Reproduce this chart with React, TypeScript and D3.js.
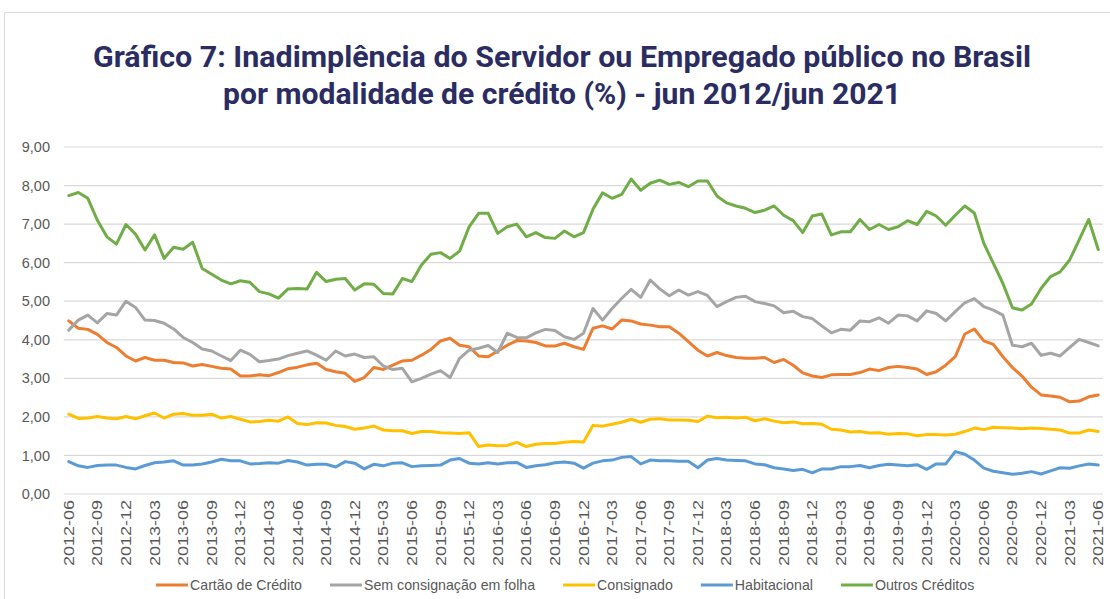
import React, { useMemo } from "react";
import * as d3 from "d3";

// jun 2012 .. jun 2021, one point per month (109)
const months = d3
  .timeMonth.range(new Date(2012, 5, 1), new Date(2021, 6, 1))
  .map(d3.timeFormat("%Y-%m"));

const cartao = [
  4.49, 4.3, 4.27, 4.14, 3.93, 3.8, 3.58, 3.45, 3.54, 3.47, 3.47, 3.41, 3.4, 3.32, 3.36, 3.31, 3.26, 3.24,
  3.06, 3.06, 3.09, 3.07, 3.15, 3.25, 3.29, 3.35, 3.39, 3.23, 3.17, 3.13, 2.92, 3.02,
  3.28, 3.23, 3.34, 3.45, 3.47, 3.6, 3.75, 3.97, 4.04, 3.86, 3.82, 3.58, 3.56, 3.71, 3.86, 3.98, 3.97, 3.93,
  3.84, 3.84, 3.91, 3.82, 3.75, 4.3, 4.36, 4.28, 4.51, 4.49, 4.41, 4.38, 4.34, 4.34, 4.17, 3.95, 3.73, 3.58,
  3.67, 3.59, 3.54, 3.52,
  3.52, 3.54, 3.41, 3.49, 3.34, 3.14, 3.06, 3.02, 3.09, 3.1, 3.1, 3.15, 3.24, 3.2, 3.28, 3.31, 3.28, 3.24,
  3.1, 3.17, 3.34, 3.56, 4.15, 4.28, 3.97, 3.88, 3.56, 3.28, 3.06, 2.77, 2.57, 2.54, 2.51, 2.39, 2.41, 2.52, 2.57,
];

const semConsignacao = [
  4.25, 4.51, 4.64, 4.44, 4.68, 4.64, 5.0, 4.84, 4.51, 4.5, 4.43, 4.28, 4.06, 3.93, 3.76, 3.71, 3.58, 3.46,
  3.73, 3.62, 3.43, 3.46, 3.5, 3.59, 3.65, 3.71, 3.6, 3.47, 3.71, 3.58, 3.63, 3.54,
  3.56, 3.32, 3.23, 3.26, 2.91, 3.0, 3.11, 3.2, 3.02, 3.52, 3.73, 3.78, 3.85, 3.67, 4.17, 4.06, 4.05, 4.18,
  4.27, 4.24, 4.08, 4.01, 4.17, 4.81, 4.51, 4.81, 5.07, 5.31, 5.1, 5.55, 5.32, 5.14, 5.29, 5.16, 5.25, 5.15,
  4.86, 4.99, 5.1, 5.13,
  4.99, 4.94, 4.88, 4.7, 4.74, 4.6, 4.55, 4.36, 4.18, 4.27, 4.25, 4.49, 4.47, 4.57, 4.43, 4.64, 4.62, 4.49,
  4.75, 4.68, 4.49, 4.73, 4.96, 5.07, 4.86, 4.77, 4.64, 3.86, 3.82, 3.91, 3.6, 3.65, 3.58, 3.8, 4.01, 3.93, 3.84,
];

const consignado = [
  2.07, 1.96, 1.97, 2.01, 1.97, 1.95, 2.01, 1.95, 2.03, 2.1, 1.97, 2.07, 2.09, 2.04, 2.04, 2.07, 1.97, 2.01,
  1.94, 1.87, 1.88, 1.91, 1.89, 2.0, 1.83, 1.8, 1.85, 1.84, 1.78, 1.75, 1.68, 1.71,
  1.76, 1.66, 1.64, 1.64, 1.57, 1.62, 1.62, 1.59, 1.58, 1.57, 1.59, 1.23, 1.27, 1.25, 1.26, 1.34, 1.23, 1.29,
  1.31, 1.31, 1.34, 1.36, 1.35, 1.78, 1.76, 1.81, 1.86, 1.94, 1.86, 1.94, 1.95, 1.92, 1.92, 1.91, 1.88, 2.02,
  1.98, 1.99, 1.97, 1.99,
  1.9, 1.95, 1.89, 1.85, 1.87, 1.82, 1.83, 1.81, 1.68, 1.66, 1.61, 1.62, 1.58, 1.59, 1.55, 1.57, 1.56, 1.51,
  1.54, 1.54, 1.53, 1.55, 1.62, 1.71, 1.67, 1.73, 1.72, 1.71, 1.69, 1.71, 1.7, 1.68, 1.66, 1.58, 1.58, 1.66, 1.62,
];

const habitacional = [
  0.84, 0.73, 0.69, 0.74, 0.75, 0.75, 0.69, 0.65, 0.74, 0.81, 0.83, 0.86, 0.75, 0.75, 0.78, 0.83, 0.9, 0.86,
  0.86, 0.78, 0.79, 0.81, 0.8, 0.87, 0.83, 0.75, 0.77, 0.77, 0.7, 0.84, 0.8, 0.65,
  0.77, 0.73, 0.8, 0.81, 0.71, 0.73, 0.74, 0.75, 0.88, 0.92, 0.8, 0.78, 0.81, 0.78, 0.81, 0.82, 0.69, 0.73,
  0.76, 0.81, 0.83, 0.8, 0.67, 0.8, 0.86, 0.88, 0.95, 0.97, 0.78, 0.88, 0.86, 0.86, 0.85, 0.85, 0.68, 0.88,
  0.92, 0.88, 0.87, 0.86,
  0.78, 0.76, 0.68, 0.65, 0.61, 0.64, 0.55, 0.65, 0.65, 0.71, 0.71, 0.74, 0.68, 0.74, 0.77, 0.75, 0.73, 0.76,
  0.64, 0.78, 0.78, 1.1, 1.03, 0.88, 0.67, 0.59, 0.55, 0.51, 0.54, 0.58, 0.52, 0.6, 0.68, 0.67, 0.73, 0.78, 0.75,
];

const outros = [
  7.74, 7.82, 7.67, 7.1, 6.67, 6.48, 6.99, 6.74, 6.33, 6.72, 6.11, 6.4, 6.35, 6.53, 5.85, 5.7, 5.55, 5.45,
  5.53, 5.49, 5.25, 5.19, 5.08, 5.32, 5.33, 5.32, 5.75, 5.51, 5.57, 5.59, 5.29, 5.45,
  5.44, 5.2, 5.19, 5.59, 5.51, 5.94, 6.22, 6.26, 6.11, 6.3, 6.93, 7.28, 7.28, 6.76, 6.93, 7.0, 6.67, 6.78,
  6.65, 6.63, 6.82, 6.67, 6.78, 7.39, 7.81, 7.67, 7.77, 8.17, 7.88, 8.06, 8.14, 8.03, 8.08, 7.97, 8.12, 8.12,
  7.73, 7.55, 7.47, 7.41,
  7.3, 7.36, 7.47, 7.23, 7.09, 6.78, 7.21, 7.26, 6.72, 6.8, 6.8, 7.12, 6.86, 6.99, 6.86, 6.93, 7.09, 6.99,
  7.33, 7.21, 6.97, 7.23, 7.47, 7.29, 6.5, 5.98, 5.46, 4.83, 4.77, 4.93, 5.33, 5.64, 5.76, 6.07, 6.59, 7.12, 6.34,
];

const seriesNames = ["Cartão de Crédito", "Sem consignação em folha", "Consignado", "Habitacional", "Outros Créditos"];
const seriesValues = [cartao, semConsignacao, consignado, habitacional, outros];
const seriesColors = ["#ED7D31", "#A5A5A5", "#FFC000", "#5B9BD5", "#70AD47"];
const yTicks = [0, 1, 2, 3, 4, 5, 6, 7, 8, 9];
const tickLabels = months.filter((_, i) => i % 3 === 0);

const titleLines = [
  "Gráfico 7: Inadimplência do Servidor ou Empregado público no Brasil",
  "por modalidade de crédito (%) - jun 2012/jun 2021",
];

const W = 1110;
const H = 599;
const FONT = "'Liberation Sans', Arial, sans-serif";

export default function App() {
  const x = d3.scalePoint().domain(months).range([64, 1103]).padding(0.5);
  const y = d3.scaleLinear().domain([0, 9]).range([494, 147]);
  const fmt = (v: number) => d3.format(".2f")(v).replace(".", ",");

  const line = d3
    .line<number>()
    .x((_, i) => x(months[i]) as number)
    .y((d) => y(d));

  // legend layout from measured text widths
  const legend = useMemo(() => {
    const ctx = document.createElement("canvas").getContext("2d")!;
    ctx.font = "14.2px 'Liberation Sans'";
    let cx = 156;
    return seriesNames.map((name) => {
      const item = { name, x: cx };
      cx += 34 + ctx.measureText(name).width + 28;
      return item;
    });
  }, []);

  return (
    <svg width={W} height={H} style={{ position: "absolute", left: 0, top: 0, background: "#fff" }}>
      <line x1={4.5} x2={W} y1={12.5} y2={12.5} stroke="#d9d9d9" />
      <line x1={4.5} x2={4.5} y1={12.5} y2={H} stroke="#d9d9d9" />

      {titleLines.map((t, i) => (
        <text
          key={t}
          x={562}
          y={[67, 104][i]}
          textAnchor="middle"
          fontFamily="Roboto, sans-serif"
          fontWeight={700}
          fontSize={29}
          fill="#2b2d62"
          textLength={[938, 678][i]}
          lengthAdjust="spacingAndGlyphs"
        >
          {t}
        </text>
      ))}

      {yTicks.map((t) => (
        <g key={t}>
          <line x1={64} x2={1103} y1={y(t)} y2={y(t)} stroke="#d9d9d9" strokeWidth={1.2} />
          <text x={50} y={y(t)} dy="0.35em" textAnchor="end" fontFamily={FONT} fontSize={14.5} fill="#595959">
            {fmt(t)}
          </text>
        </g>
      ))}

      {tickLabels.map((m) => (
        <text
          key={m}
          transform={`translate(${(x(m) as number) + 5},500) rotate(-90)`}
          textAnchor="end"
          fontFamily={FONT}
          fontSize={14}
          fill="#595959"
          textLength={66}
          lengthAdjust="spacingAndGlyphs"
        >
          {m}
        </text>
      ))}

      {seriesValues.map((vals, i) => (
        <path
          key={seriesNames[i]}
          d={line(vals) as string}
          fill="none"
          stroke={seriesColors[i]}
          strokeWidth={3}
          strokeLinejoin="round"
          strokeLinecap="round"
        />
      ))}

      {legend.map((it, i) => (
        <g key={it.name}>
          <line x1={it.x} x2={it.x + 32} y1={585} y2={585} stroke={seriesColors[i]} strokeWidth={3} />
          <text x={it.x + 34} y={585} dy="0.35em" fontFamily={FONT} fontSize={14.2} fill="#595959">
            {it.name}
          </text>
        </g>
      ))}
    </svg>
  );
}
